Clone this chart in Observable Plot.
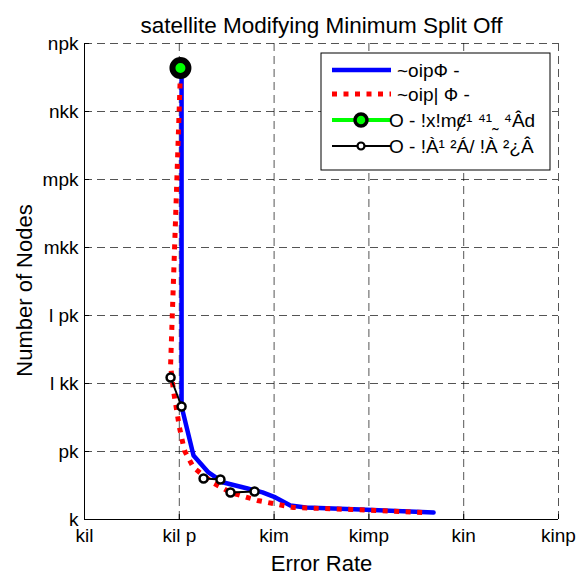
<!DOCTYPE html>
<html><head><meta charset="utf-8">
<script src="https://cdn.jsdelivr.net/npm/d3@7"></script>
<script src="https://cdn.jsdelivr.net/npm/@observablehq/plot@0.6"></script>
<style>body{margin:0;background:#fff;}</style>
</head><body><div id="chart"></div>
<script>
const title = "satellite Modifying Minimum Split Off";
const xLabel = "Error Rate";
const yLabel = "Number of Nodes";
const xTicks = [0.1, 0.15, 0.2, 0.25, 0.3, 0.35];
const xTickLabels = ["kil", "kil p", "kim", "kimp", "kin", "kinp"];
const yTicks = [0, 50, 100, 150, 200, 250, 300, 350];
const yTickLabels = ["k", "pk", "l kk", "l pk", "mkk", "mpk", "nkk", "npk"];
const seriesNames = ["~oipФ -", "~oip| Ф -", "O - !x!mȼ¹ ⁴¹˷ ⁴Âd", "O - !À¹ ²Á/ !À ²¿Â"];

const blueX = [0.1512, 0.1512, 0.1575, 0.1654, 0.1733, 0.1860, 0.1939, 0.2007, 0.2086, 0.2166, 0.2456, 0.2841];
const blueY = [332.4, 83.1, 47.1, 34.6, 27.2, 22.8, 19.9, 16.2, 10.3, 8.8, 7.4, 5.1];
const redX = [0.1504, 0.1480, 0.1454, 0.1469, 0.1501, 0.1527, 0.1575, 0.1675, 0.1770, 0.1912, 0.2102, 0.2403, 0.2788];
const redY = [320.6, 219.9, 113.2, 94.9, 67.6, 50.7, 38.2, 27.2, 19.9, 14.0, 8.8, 7.4, 5.1];
const greenX = [0.1506];
const greenY = [332];
const blackX = [0.1454, 0.1512, 0.1628, 0.1717, 0.1770, 0.1897];
const blackY = [104.4, 83.1, 30.1, 29.4, 19.9, 20.6];
const blackPair = [0, 0, 1, 1, 2, 2];

const blue = blueX.map((x, i) => ({x, y: blueY[i]}));
const red = redX.map((x, i) => ({x, y: redY[i]}));
const green = greenX.map((x, i) => ({x, y: greenY[i]}));
const black = blackX.map((x, i) => ({x, y: blackY[i], p: blackPair[i]}));

const font = "'Liberation Sans', Arial, Helvetica, sans-serif";
const gridStyle = {stroke: "#000", strokeOpacity: 0.75, strokeWidth: 0.9, strokeDasharray: "8,5"};

const plot = Plot.plot({
  width: 583, height: 575,
  marginTop: 43, marginBottom: 56, marginLeft: 84, marginRight: 25,
  style: {fontFamily: font, fontSize: "18px", color: "#000", background: "#fff"},
  x: {domain: [0.1, 0.35]},
  y: {domain: [0, 350]},
  marks: [
    Plot.gridX(xTicks, gridStyle),
    Plot.gridY(yTicks, gridStyle),
    Plot.axisX(xTicks, {tickSize: 0, tickPadding: 9, tickFormat: (d) => xTickLabels[xTicks.indexOf(d)], label: null, fontSize: 19}),
    Plot.axisX(xTicks, {tickSize: -5, tickFormat: () => "", label: null, stroke: "#000"}),
    Plot.axisY(yTicks, {tickSize: 0, tickPadding: 6, tickFormat: (d) => yTickLabels[yTicks.indexOf(d)], label: null, fontSize: 19}),
    Plot.axisY(yTicks, {tickSize: -5, tickFormat: () => "", label: null, stroke: "#000"}),
    Plot.ruleX([0.1], {stroke: "#000", strokeWidth: 1}),
    Plot.ruleY([0], {stroke: "#000", strokeWidth: 1}),
    Plot.line(blue, {x: "x", y: "y", stroke: "#0000ff", strokeWidth: 4.5}),
    Plot.line(red, {x: "x", y: "y", stroke: "#ff0000", strokeWidth: 5, strokeDasharray: "5,6.5", strokeLinecap: "butt", strokeLinejoin: "miter"}),
    Plot.line(black, {x: "x", y: "y", z: "p", stroke: "#000", strokeWidth: 2}),
    Plot.dot(black, {x: "x", y: "y", r: 4, fill: "#fff", stroke: "#000", strokeWidth: 2.5}),
    Plot.dot(green, {x: "x", y: "y", r: 8, fill: "#00ff00", stroke: "#000", strokeWidth: 6}),
    Plot.text([title], {text: d => d, frameAnchor: "top", dy: -26, fontSize: 22.5}),
    Plot.text([xLabel], {text: d => d, frameAnchor: "bottom", dy: 51, fontSize: 22}),
    Plot.text([yLabel], {text: d => d, frameAnchor: "left", textAnchor: "middle", dx: -60, dy: 9, rotate: -90, fontSize: 22})
  ]
});

// legend
const svg = d3.select(plot);
const lg = svg.append("g").attr("font-family", font).attr("font-size", 19).attr("text-anchor", "start");
lg.append("rect").attr("x", 321).attr("y", 53).attr("width", 229).attr("height", 117)
  .attr("fill", "#fff").attr("stroke", "#000").attr("stroke-width", 1);
const rowY = [70, 94, 120, 146];
const textX = [397, 397, 389, 389];
rowY.forEach((y, i) => {
  const line = lg.append("line").attr("x1", 332).attr("x2", 391).attr("y1", y).attr("y2", y);
  if (i === 0) line.attr("stroke", "#0000ff").attr("stroke-width", 4.5);
  if (i === 1) line.attr("stroke", "#ff0000").attr("stroke-width", 5).attr("stroke-dasharray", "5,6.5");
  if (i === 2) {
    line.attr("stroke", "#00ff00").attr("stroke-width", 4);
    lg.append("circle").attr("cx", 361).attr("cy", y).attr("r", 6).attr("fill", "#00ff00").attr("stroke", "#000").attr("stroke-width", 3.5);
  }
  if (i === 3) {
    line.attr("stroke", "#000").attr("stroke-width", 2);
    lg.append("circle").attr("cx", 361).attr("cy", y).attr("r", 3.5).attr("fill", "#fff").attr("stroke", "#000").attr("stroke-width", 2.2);
  }
  lg.append("text").attr("x", textX[i]).attr("y", y).attr("dy", "0.35em").text(seriesNames[i]);
});

document.getElementById("chart").appendChild(plot);
</script>
</body></html>
